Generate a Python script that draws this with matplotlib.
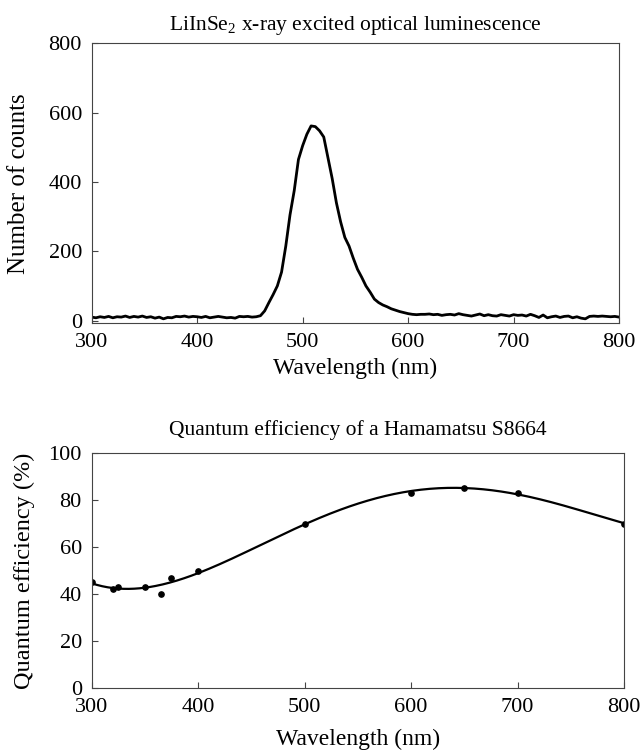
import numpy as np
import matplotlib
matplotlib.use('Agg')
import matplotlib.pyplot as plt

plt.rcParams['font.family'] = 'Liberation Serif'
plt.rcParams['mathtext.fontset'] = 'custom'
plt.rcParams['mathtext.rm'] = 'Liberation Serif'
plt.rcParams['mathtext.it'] = 'Liberation Serif:italic'

# Luminescence spectrum (counts, 4 nm steps 300..800)
baseline_left = [10, 8, 11, 9, 12, 8, 11, 10, 13, 9,
                 12, 10, 13, 9, 11, 7, 10, 5, 9, 8,
                 12, 11, 13, 10, 12, 11, 9, 12, 8, 10,
                 12, 10, 8, 9, 7, 12, 11, 12, 10, 11,
                 14]
peak = [28, 52, 75, 100, 140, 215, 305, 375, 465, 505,
        538, 562, 560, 548, 530, 470, 410, 340, 285, 240,
        215, 180, 148, 125, 100, 82, 62, 52, 45, 40,
        34, 30, 26, 23, 20]
baseline_right = [18, 17, 18, 18, 19, 17, 18, 15, 17, 18,
                  16, 20, 17, 15, 13, 16, 19, 14, 17, 14,
                  13, 17, 15, 13, 17, 15, 16, 13, 18, 14,
                  9, 16, 8, 11, 13, 9, 12, 13, 8, 11,
                  7, 5, 12, 13, 12, 13, 12, 11, 12, 10]
counts = baseline_left + peak + baseline_right
wavelength = np.linspace(300, 800, len(counts))

# Quantum efficiency of Hamamatsu S8664
qe_wl = [300, 320, 325, 350, 365, 375, 400, 500, 600, 650, 700, 800]
qe_val = [45, 42, 43, 43, 40, 47, 50, 70, 83, 85, 83, 70]

fig = plt.figure(figsize=(6.4, 7.55), dpi=100)

ax1 = fig.add_axes([0.1433, 0.5722, 0.824, 0.3702])
ax1.plot(wavelength, counts, color='black', linewidth=2)
ax1.set_xlim(300, 800)
ax1.set_ylim(-7, 800)
ax1.set_xticks([300, 400, 500, 600, 700, 800])
ax1.set_yticks([0, 200, 400, 600, 800])
ax1.set_xlabel('Wavelength (nm)', fontsize=17)
ax1.set_ylabel('Number of counts', fontsize=18)
ax1.set_title('LiInSe$_2$ x-ray excited optical luminescence', fontsize=15.5, pad=10)
ax1.yaxis.set_label_coords(-0.117, 0.5)
ax1.xaxis.set_label_coords(0.5, -0.125)

ax2 = fig.add_axes([0.143, 0.0887, 0.832, 0.3113])
coef = np.polyfit(qe_wl, qe_val, 4)
xs = np.linspace(300, 800, 300)
ax2.plot(xs, np.polyval(coef, xs), color='black', linewidth=1.6)
ax2.plot(qe_wl, qe_val, 'o', color='black', markersize=3.8)
ax2.set_xlim(300, 800)
ax2.set_ylim(0, 100)
ax2.set_xticks([300, 400, 500, 600, 700, 800])
ax2.set_yticks([0, 20, 40, 60, 80, 100])
ax2.set_xlabel('Wavelength (nm)', fontsize=17)
ax2.set_ylabel('Quantum efficiency (%)', fontsize=17.5)
ax2.set_title('Quantum efficiency of a Hamamatsu S8664', fontsize=15.5, pad=13)
ax2.yaxis.set_label_coords(-0.106, 0.5)
ax2.xaxis.set_label_coords(0.5, -0.175)

for ax in (ax1, ax2):
    ax.tick_params(direction='in', labelsize=16, color='#444444', length=4, pad=7)
    for sp in ax.spines.values():
        sp.set_color('#444444')
        sp.set_linewidth(0.8)

fig.savefig('out.png', dpi=100)
